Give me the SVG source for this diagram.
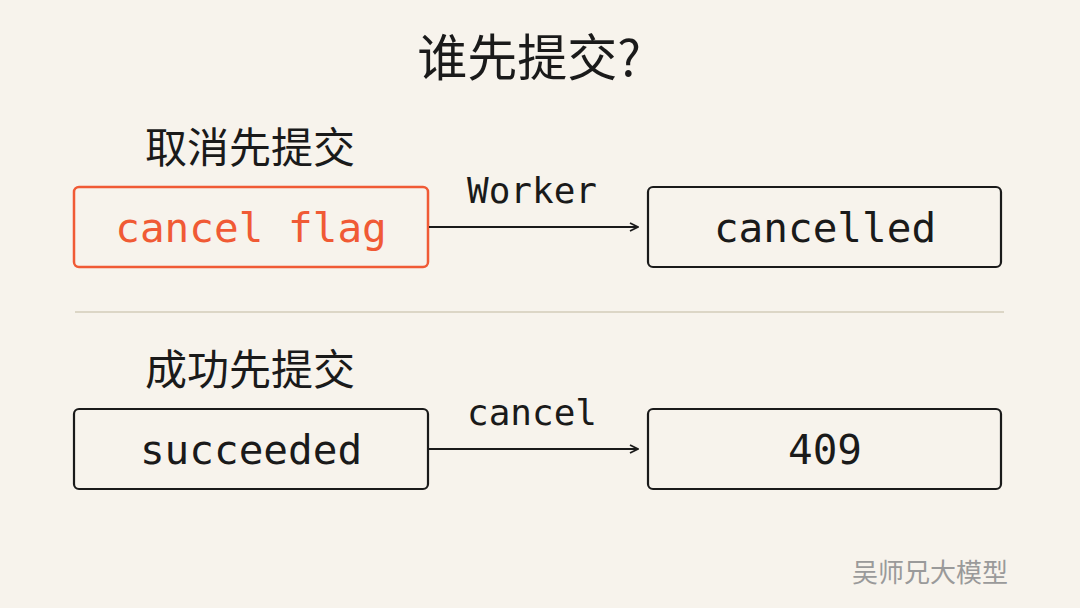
<svg xmlns="http://www.w3.org/2000/svg" width="1080" height="608" viewBox="0 0 1080 608">
<defs>
<marker id="ah" markerWidth="10" markerHeight="10" refX="9" refY="5" orient="auto" markerUnits="userSpaceOnUse"><path d="M1,1 L9,5 L1,9" fill="none" stroke="#1a1a1a" stroke-width="1.8"/></marker>
<style>
.box{fill:none;stroke:#1a1a1a;stroke-width:2.2}
.red{fill:none;stroke:#f05a35;stroke-width:2.5}
.mono{font-family:"DejaVu Sans Mono",monospace;fill:#1a1a1a;text-anchor:middle}
.cjk{font-family:"Noto Sans CJK SC",sans-serif;fill:#1a1a1a}
.ln{stroke:#1a1a1a;stroke-width:2;fill:none}
</style>
</defs>
<rect width="1080" height="608" fill="#f7f3ec"/>
<text class="cjk" x="529" y="76" font-size="50" text-anchor="middle">谁先提交?</text>
<text class="cjk" x="145" y="163" font-size="42">取消先提交</text>
<text class="cjk" x="145" y="385" font-size="42">成功先提交</text>
<line x1="75" y1="312" x2="1004" y2="312" stroke="#dcd6c6" stroke-width="2"/>
<g id="n1"><rect class="red" x="74" y="187" width="354" height="80" rx="5"/><text class="mono" x="251" y="242" font-size="41" style="fill:#f05a35">cancel flag</text></g>
<g id="n2"><rect class="box" x="648" y="187" width="353" height="80" rx="5"/><text class="mono" x="825" y="242" font-size="41">cancelled</text></g>
<g id="n3"><rect class="box" x="74" y="409" width="354" height="80" rx="5"/><text class="mono" x="251" y="464" font-size="41">succeeded</text></g>
<g id="n4"><rect class="box" x="648" y="409" width="353" height="80" rx="5"/><text class="mono" x="825" y="464" font-size="41">409</text></g>
<g id="connectors">
<line class="ln" x1="429" y1="227" x2="638" y2="227" marker-end="url(#ah)"/>
<line class="ln" x1="429" y1="449" x2="638" y2="449" marker-end="url(#ah)"/>
<text class="mono" x="532" y="203" font-size="36">Worker</text>
<text class="mono" x="532" y="425" font-size="36">cancel</text>
</g>
<text x="1008" y="582" font-size="26" text-anchor="end" font-family="Noto Sans CJK SC,sans-serif" fill="#9a9a9a">吴师兄大模型</text>
</svg>
